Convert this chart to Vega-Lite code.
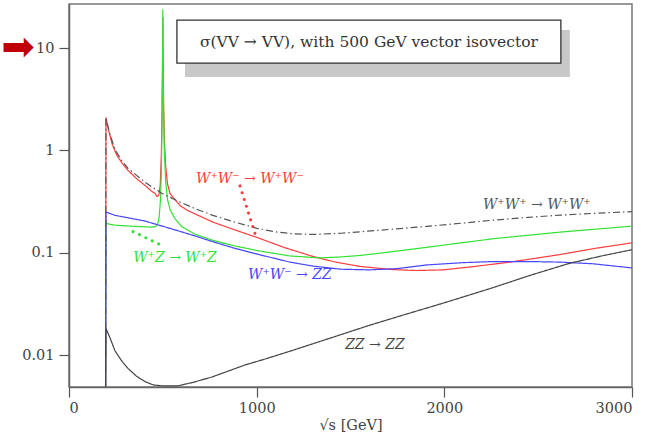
{
  "$schema": "https://vega.github.io/schema/vega-lite/v6.json",
  "width": 563,
  "height": 383,
  "autosize": "none",
  "padding": {"left": 69, "top": 4, "right": 26, "bottom": 51},
  "background": "white",
  "config": {
    "view": {"stroke": "#777", "strokeWidth": 1.5},
    "axis": {
      "grid": false,
      "domainColor": "#666",
      "domainWidth": 1.5,
      "tickColor": "#555",
      "tickWidth": 1.2,
      "tickSize": 10,
      "labelColor": "#444",
      "labelFont": "DejaVu Serif",
      "labelFontSize": 14.5,
      "titleFont": "DejaVu Serif",
      "titleFontSize": 14.5,
      "titleFontWeight": "normal",
      "titleColor": "#444"
    }
  },
  "datasets": {
    "curves": [
      {"s": "WW", "x": 195, "y": 0.0049}, {"s": "WW", "x": 197, "y": 2.1}, {"s": "WW", "x": 210, "y": 1.6}, {"s": "WW", "x": 230, "y": 1.15}, {"s": "WW", "x": 256, "y": 0.89}, {"s": "WW", "x": 285, "y": 0.74}, {"s": "WW", "x": 314, "y": 0.64}, {"s": "WW", "x": 360, "y": 0.53}, {"s": "WW", "x": 405, "y": 0.455}, {"s": "WW", "x": 440, "y": 0.4}, {"s": "WW", "x": 458, "y": 0.38}, {"s": "WW", "x": 469, "y": 0.355}, {"s": "WW", "x": 478, "y": 0.36}, {"s": "WW", "x": 486, "y": 0.45}, {"s": "WW", "x": 492, "y": 0.9}, {"s": "WW", "x": 496, "y": 2.5}, {"s": "WW", "x": 499, "y": 10}, {"s": "WW", "x": 500, "y": 20}, {"s": "WW", "x": 501, "y": 10}, {"s": "WW", "x": 504, "y": 3}, {"s": "WW", "x": 508, "y": 1.3}, {"s": "WW", "x": 515, "y": 0.7}, {"s": "WW", "x": 525, "y": 0.47}, {"s": "WW", "x": 538, "y": 0.38}, {"s": "WW", "x": 565, "y": 0.33}, {"s": "WW", "x": 591, "y": 0.29}, {"s": "WW", "x": 630, "y": 0.26}, {"s": "WW", "x": 671, "y": 0.24}, {"s": "WW", "x": 767, "y": 0.199}, {"s": "WW", "x": 880, "y": 0.168}, {"s": "WW", "x": 1002, "y": 0.141}, {"s": "WW", "x": 1150, "y": 0.112}, {"s": "WW", "x": 1300, "y": 0.092}, {"s": "WW", "x": 1420, "y": 0.081}, {"s": "WW", "x": 1550, "y": 0.0735}, {"s": "WW", "x": 1726, "y": 0.0684}, {"s": "WW", "x": 1850, "y": 0.067}, {"s": "WW", "x": 1993, "y": 0.068}, {"s": "WW", "x": 2150, "y": 0.073}, {"s": "WW", "x": 2350, "y": 0.081}, {"s": "WW", "x": 2500, "y": 0.089}, {"s": "WW", "x": 2616, "y": 0.096}, {"s": "WW", "x": 2800, "y": 0.11}, {"s": "WW", "x": 3000, "y": 0.125},

      {"s": "WZ", "x": 195, "y": 0.0049}, {"s": "WZ", "x": 197, "y": 0.195}, {"s": "WZ", "x": 215, "y": 0.19}, {"s": "WZ", "x": 245, "y": 0.186}, {"s": "WZ", "x": 300, "y": 0.183}, {"s": "WZ", "x": 380, "y": 0.18}, {"s": "WZ", "x": 440, "y": 0.178}, {"s": "WZ", "x": 462, "y": 0.18}, {"s": "WZ", "x": 472, "y": 0.19}, {"s": "WZ", "x": 480, "y": 0.22}, {"s": "WZ", "x": 487, "y": 0.32}, {"s": "WZ", "x": 492, "y": 0.6}, {"s": "WZ", "x": 496, "y": 2}, {"s": "WZ", "x": 499, "y": 10}, {"s": "WZ", "x": 500, "y": 24}, {"s": "WZ", "x": 501, "y": 10}, {"s": "WZ", "x": 504, "y": 2.5}, {"s": "WZ", "x": 508, "y": 1}, {"s": "WZ", "x": 515, "y": 0.5}, {"s": "WZ", "x": 525, "y": 0.33}, {"s": "WZ", "x": 540, "y": 0.26}, {"s": "WZ", "x": 565, "y": 0.215}, {"s": "WZ", "x": 600, "y": 0.18}, {"s": "WZ", "x": 671, "y": 0.152}, {"s": "WZ", "x": 767, "y": 0.132}, {"s": "WZ", "x": 880, "y": 0.117}, {"s": "WZ", "x": 1002, "y": 0.105}, {"s": "WZ", "x": 1177, "y": 0.093}, {"s": "WZ", "x": 1337, "y": 0.089}, {"s": "WZ", "x": 1450, "y": 0.091}, {"s": "WZ", "x": 1550, "y": 0.094}, {"s": "WZ", "x": 1657, "y": 0.099}, {"s": "WZ", "x": 1907, "y": 0.113}, {"s": "WZ", "x": 2259, "y": 0.137}, {"s": "WZ", "x": 2616, "y": 0.159}, {"s": "WZ", "x": 3000, "y": 0.182},

      {"s": "WWZZ", "x": 195, "y": 0.0049}, {"s": "WWZZ", "x": 197, "y": 0.25}, {"s": "WWZZ", "x": 245, "y": 0.232}, {"s": "WWZZ", "x": 300, "y": 0.222}, {"s": "WWZZ", "x": 405, "y": 0.204}, {"s": "WWZZ", "x": 538, "y": 0.173}, {"s": "WWZZ", "x": 600, "y": 0.16}, {"s": "WWZZ", "x": 671, "y": 0.146}, {"s": "WWZZ", "x": 767, "y": 0.128}, {"s": "WWZZ", "x": 880, "y": 0.111}, {"s": "WWZZ", "x": 1002, "y": 0.097}, {"s": "WWZZ", "x": 1177, "y": 0.081}, {"s": "WWZZ", "x": 1300, "y": 0.074}, {"s": "WWZZ", "x": 1450, "y": 0.069}, {"s": "WWZZ", "x": 1600, "y": 0.068}, {"s": "WWZZ", "x": 1750, "y": 0.07}, {"s": "WWZZ", "x": 1907, "y": 0.076}, {"s": "WWZZ", "x": 2100, "y": 0.08}, {"s": "WWZZ", "x": 2259, "y": 0.082}, {"s": "WWZZ", "x": 2450, "y": 0.082}, {"s": "WWZZ", "x": 2616, "y": 0.081}, {"s": "WWZZ", "x": 2792, "y": 0.078}, {"s": "WWZZ", "x": 3000, "y": 0.071},

      {"s": "WpWp", "x": 195, "y": 0.0049}, {"s": "WpWp", "x": 197, "y": 2.1}, {"s": "WpWp", "x": 215, "y": 1.5}, {"s": "WpWp", "x": 245, "y": 1.02}, {"s": "WpWp", "x": 280, "y": 0.8}, {"s": "WpWp", "x": 314, "y": 0.67}, {"s": "WpWp", "x": 360, "y": 0.57}, {"s": "WpWp", "x": 405, "y": 0.49}, {"s": "WpWp", "x": 450, "y": 0.43}, {"s": "WpWp", "x": 495, "y": 0.38}, {"s": "WpWp", "x": 565, "y": 0.33}, {"s": "WpWp", "x": 591, "y": 0.313}, {"s": "WpWp", "x": 671, "y": 0.27}, {"s": "WpWp", "x": 767, "y": 0.232}, {"s": "WpWp", "x": 880, "y": 0.2}, {"s": "WpWp", "x": 1002, "y": 0.173}, {"s": "WpWp", "x": 1100, "y": 0.16}, {"s": "WpWp", "x": 1193, "y": 0.153}, {"s": "WpWp", "x": 1300, "y": 0.151}, {"s": "WpWp", "x": 1450, "y": 0.155}, {"s": "WpWp", "x": 1657, "y": 0.166}, {"s": "WpWp", "x": 1907, "y": 0.181}, {"s": "WpWp", "x": 2100, "y": 0.195}, {"s": "WpWp", "x": 2259, "y": 0.208}, {"s": "WpWp", "x": 2450, "y": 0.222}, {"s": "WpWp", "x": 2616, "y": 0.233}, {"s": "WpWp", "x": 2800, "y": 0.243}, {"s": "WpWp", "x": 3000, "y": 0.252},

      {"s": "ZZ", "x": 195, "y": 0.0049}, {"s": "ZZ", "x": 197, "y": 0.0182}, {"s": "ZZ", "x": 220, "y": 0.0145}, {"s": "ZZ", "x": 245, "y": 0.011}, {"s": "ZZ", "x": 280, "y": 0.0088}, {"s": "ZZ", "x": 314, "y": 0.0074}, {"s": "ZZ", "x": 360, "y": 0.0062}, {"s": "ZZ", "x": 405, "y": 0.0055}, {"s": "ZZ", "x": 450, "y": 0.0051}, {"s": "ZZ", "x": 495, "y": 0.005}, {"s": "ZZ", "x": 580, "y": 0.005}, {"s": "ZZ", "x": 660, "y": 0.0054}, {"s": "ZZ", "x": 762, "y": 0.0061}, {"s": "ZZ", "x": 938, "y": 0.008}, {"s": "ZZ", "x": 1050, "y": 0.0092}, {"s": "ZZ", "x": 1204, "y": 0.0113}, {"s": "ZZ", "x": 1390, "y": 0.0146}, {"s": "ZZ", "x": 1600, "y": 0.0195}, {"s": "ZZ", "x": 1800, "y": 0.0252}, {"s": "ZZ", "x": 2014, "y": 0.033}, {"s": "ZZ", "x": 2250, "y": 0.045}, {"s": "ZZ", "x": 2456, "y": 0.06}, {"s": "ZZ", "x": 2669, "y": 0.079}, {"s": "ZZ", "x": 2850, "y": 0.094}, {"s": "ZZ", "x": 3000, "y": 0.107}
    ],
    "labels": [
      {"s": "WW", "t": "W⁺W⁻ → W⁺W⁻", "x": 964, "y": 0.53},
      {"s": "WZ", "t": "W⁺Z → W⁺Z", "x": 565, "y": 0.088},
      {"s": "WWZZ", "t": "W⁺W⁻ → ZZ", "x": 1177, "y": 0.06},
      {"s": "WpWp", "t": "W⁺W⁺ → W⁺W⁺", "x": 2493, "y": 0.29},
      {"s": "ZZ", "t": "ZZ → ZZ", "x": 1630, "y": 0.0124}
    ],
    "leaders": [
      {"s": "WW", "x": 911, "y": 0.45}, {"s": "WW", "x": 996, "y": 0.144},
      {"s": "WZ", "x": 341, "y": 0.161}, {"s": "WZ", "x": 485, "y": 0.12}
    ],
    "shadow": [{"x": 618, "x2": 2669, "y": 5.21, "y2": 15}],
    "box": [{"x": 575, "x2": 2621, "y": 7.14, "y2": 18.8, "t": "σ(VV → VV), with 500 GeV vector isovector", "xc": 1598, "yc": 11.4}],
    "arrow": [{"x": -183, "y": 10, "t": "➡"}]
  },
  "layer": [
    {
      "data": {"name": "shadow"},
      "mark": {"type": "rect", "fill": "#c8c8c8"},
      "encoding": {
        "x": {"field": "x", "type": "quantitative", "scale": {"domain": [0, 3000], "nice": false, "zero": false}, "axis": {"values": [0, 1000, 2000, 3000], "format": "d", "title": "√s [GeV]", "labelPadding": 4, "titlePadding": 4}},
        "x2": {"field": "x2"},
        "y": {"field": "y", "type": "quantitative", "scale": {"type": "log", "domain": [0.00487, 27], "nice": false}, "axis": {"values": [0.01, 0.1, 1, 10], "format": "~g", "title": null, "labelPadding": 5}},
        "y2": {"field": "y2"}
      }
    },
    {
      "data": {"name": "box"},
      "mark": {"type": "rect", "fill": "white", "stroke": "#333", "strokeWidth": 1.3},
      "encoding": {
        "x": {"field": "x", "type": "quantitative"},
        "x2": {"field": "x2"},
        "y": {"field": "y", "type": "quantitative"},
        "y2": {"field": "y2"}
      }
    },
    {
      "data": {"name": "box"},
      "mark": {"type": "text", "font": "DejaVu Serif", "fontSize": 15.5, "color": "#333", "align": "center", "baseline": "middle"},
      "encoding": {
        "x": {"field": "xc", "type": "quantitative"},
        "y": {"field": "yc", "type": "quantitative"},
        "text": {"field": "t"}
      }
    },
    {
      "data": {"name": "curves"},
      "mark": {"type": "line", "strokeWidth": 1.2, "clip": true, "interpolate": "linear"},
      "encoding": {
        "x": {"field": "x", "type": "quantitative"},
        "y": {"field": "y", "type": "quantitative"},
        "color": {"field": "s", "type": "nominal", "scale": {"domain": ["WW", "WZ", "WWZZ", "WpWp", "ZZ"], "range": ["#ff3b3b", "#33e033", "#4646ff", "#555555", "#444444"]}, "legend": null},
        "strokeDash": {"field": "s", "type": "nominal", "scale": {"domain": ["WW", "WZ", "WWZZ", "WpWp", "ZZ"], "range": [[1, 0], [1, 0], [1, 0], [7, 3, 1.5, 3], [1, 0]]}, "legend": null}
      }
    },
    {
      "data": {"name": "leaders"},
      "mark": {"type": "line", "strokeWidth": 3, "strokeDash": [0.1, 7], "strokeCap": "round"},
      "encoding": {
        "x": {"field": "x", "type": "quantitative"},
        "y": {"field": "y", "type": "quantitative"},
        "detail": {"field": "s"},
        "color": {"field": "s", "type": "nominal", "legend": null}
      }
    },
    {
      "data": {"name": "labels"},
      "mark": {"type": "text", "font": "DejaVu Serif", "fontStyle": "italic", "fontSize": 14, "align": "center", "baseline": "middle"},
      "encoding": {
        "x": {"field": "x", "type": "quantitative"},
        "y": {"field": "y", "type": "quantitative"},
        "text": {"field": "t"},
        "color": {"field": "s", "type": "nominal", "legend": null}
      }
    },
    {
      "data": {"name": "arrow"},
      "mark": {"type": "text", "font": "DejaVu Sans", "fontSize": 40, "color": "#c00000", "align": "right", "baseline": "middle", "clip": false},
      "encoding": {
        "x": {"field": "x", "type": "quantitative"},
        "y": {"field": "y", "type": "quantitative"},
        "text": {"field": "t"}
      }
    }
  ]
}
